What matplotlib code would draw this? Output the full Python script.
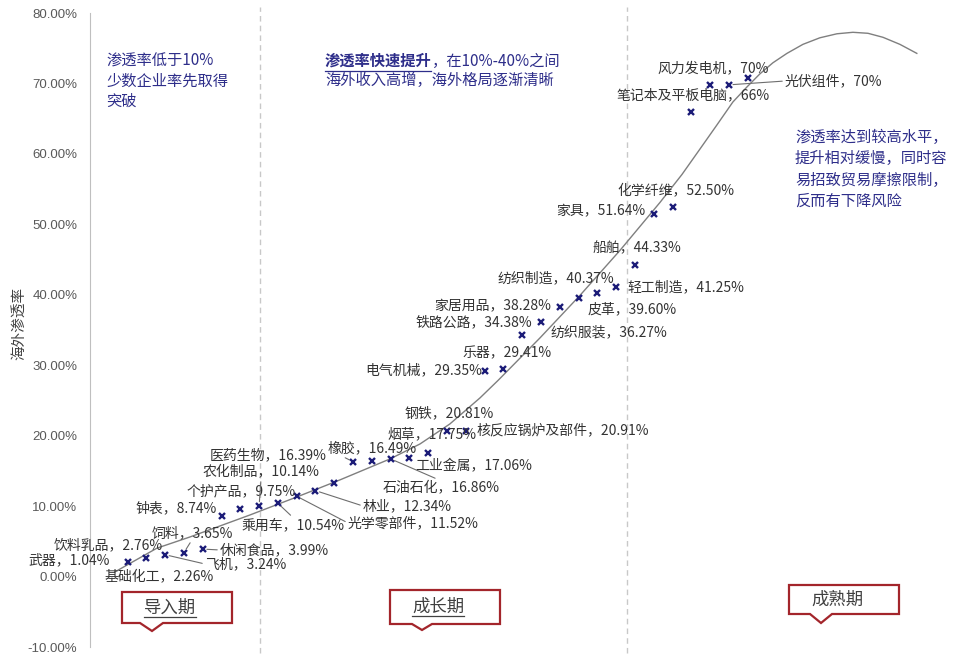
import numpy as np
import matplotlib.pyplot as plt
from matplotlib.patches import Polygon
from matplotlib.lines import Line2D

plt.rcParams['font.family'] = ['Noto Sans CJK SC', 'DejaVu Sans']

W, H = 960, 668

# marker heights (%), one per industry slot
share = [2.0, 2.7, 3.1, 3.4, 3.9, 8.6, 9.6, 10.05, 10.4, 11.4, 12.2, 13.3,
         16.3, 16.4, 16.7, 16.9, 17.6, 20.6, 20.7, 29.2, 29.4, 34.3, 36.1,
         38.2, 39.5, 40.2, 41.1, 44.2, 51.5, 52.4, 65.9, 69.8, 69.8, 70.8]
slot = np.arange(len(share))

# labelled industries: name, printed value, slot of the marker
names = ['武器', '饮料乳品', '基础化工', '飞机', '饲料', '休闲食品', '钟表',
         '个护产品', '农化制品', '乘用车', '光学零部件', '林业', '医药生物',
         '橡胶', '石油石化', '工业金属', '烟草', '钢铁', '核反应锅炉及部件',
         '电气机械', '乐器', '铁路公路', '纺织服装', '家居用品', '纺织制造',
         '皮革', '轻工制造', '船舶', '家具', '化学纤维', '笔记本及平板电脑',
         '风力发电机', '光伏组件']
printed = ['1.04%', '2.76%', '2.26%', '3.24%', '3.65%', '3.99%', '8.74%',
           '9.75%', '10.14%', '10.54%', '11.52%', '12.34%', '16.39%',
           '16.49%', '16.86%', '17.06%', '17.75%', '20.81%', '20.91%',
           '29.35%', '29.41%', '34.38%', '36.27%', '38.28%', '40.37%',
           '39.60%', '41.25%', '44.33%', '51.64%', '52.50%', '66%',
           '70%', '70%']
label_slot = [0, 1, 0, 2, 3, 4, 5, 6, 7, 8, 9, 10, 13, 12, 14, 15, 16, 17, 18,
              19, 20, 21, 22, 23, 24, 25, 26, 27, 28, 29, 30, 31, 32]

# hand-drawn S-curve (slot, %)
curve_x = [-0.68, 1.56, 3.32, 6.51, 9.01, 11.30, 13.96, 15.56, 17.15, 18.75,
           19.71, 21.94, 24.07, 26.20, 28.33, 29.50, 30.46, 31.36, 32.21,
           32.96, 33.65, 34.34, 35.09, 35.94, 36.84, 37.75, 38.60, 39.40,
           40.20, 41.10, 42.00]
curve_y = [0.65, 4.03, 5.62, 8.74, 11.30, 13.72, 16.69, 18.82, 21.66, 25.35,
           27.83, 33.86, 39.90, 46.29, 53.10, 57.07, 60.69, 64.10, 67.36,
           69.50, 71.36, 72.93, 74.27, 75.55, 76.48, 77.05, 77.26, 77.12,
           76.55, 75.55, 74.27]

phase_bounds = [7.05, 26.6]
yticks = [-10, 0, 10, 20, 30, 40, 50, 60, 70, 80]

# label placement in picture pixels: x, y, ha, leader relpos
label_pos = [
    (110, 560, 'right', None), (163, 545, 'right', None),
    (159, 577, 'center', None), (205, 564, 'left', (0, 0.5)),
    (152, 533, 'left', (0.49, 0)), (220, 550, 'left', (0, 0.5)),
    (217, 508, 'right', None), (241, 491, 'center', None),
    (261, 472, 'center', (0.5, 0)), (242, 525, 'left', (0.5, 1)),
    (348, 523, 'left', (0, 0.5)), (363, 506, 'left', (0, 0.5)),
    (327, 455, 'right', None), (328, 448, 'left', (0.1, 0.1)),
    (383, 488, 'left', (0.5, 1)), (415, 466, 'left', None),
    (387, 434, 'left', None), (405, 413, 'left', None),
    (477, 430, 'left', None), (482, 370, 'right', None),
    (462, 353, 'left', None), (532, 322, 'right', None),
    (550, 332, 'left', None), (551, 306, 'right', None),
    (497, 278, 'left', None), (588, 309, 'left', None),
    (627, 287, 'left', None), (593, 248, 'left', None),
    (645, 211, 'right', None), (617, 191, 'left', None),
    (617, 95, 'left', None), (657, 68, 'left', None),
    (785, 81, 'left', (0, 0.5)),
]


def fp(x, y):
    return (x / W, 1 - y / H)


fig = plt.figure(figsize=(9.6, 6.68), dpi=100)
ax = fig.add_axes([90 / W, 1 - 647 / H, 855 / W, 634 / H])

ax.plot(curve_x, curve_y, color='#7f7f7f', lw=1.0, zorder=2)
ax.plot(slot, share, 'x', color='#1c1c78', ms=5, mew=1.7, zorder=3)

for x in phase_bounds:
    ax.axvline(x, ymin=-0.01, ymax=1.01, color='#c8c8c8', lw=1.0,
               ls=(0, (4, 3)), clip_on=False, zorder=1)

ax.set_xlim(-2, 43.5)
ax.set_ylim(-10, 80)
ax.set_xticks([])
ax.set_yticks(yticks)
ax.set_yticklabels(['%.2f%%' % t for t in yticks], fontsize=9.5,
                   color='#595959', family='Liberation Sans')
ax.tick_params(axis='y', length=0, pad=9)
for s in ['top', 'right', 'bottom']:
    ax.spines[s].set_visible(False)
ax.spines['left'].set_color('#bfbfbf')
ax.set_ylabel('海外渗透率', fontsize=10.5, color='#404040')
ax.yaxis.set_label_coords(-0.075, 0.51)

for n, v, i, (px, py, ha, rp) in zip(names, printed, label_slot, label_pos):
    kw = {}
    if rp is not None:
        kw['arrowprops'] = dict(arrowstyle='-', color='#6e6e6e', lw=0.8,
                                shrinkA=0, shrinkB=3, relpos=rp)
    ax.annotate(n + '，' + v, xy=(slot[i], share[i]), xytext=fp(px, py),
                textcoords='figure fraction', ha=ha, va='center',
                fontsize=10, color='#333333', zorder=4, **kw)

navy = '#2e2e8a'
for k, line in enumerate(['渗透率低于10%', '少数企业率先取得', '突破']):
    fig.text(*fp(106, 61 + 20 * k), line, fontsize=11, color=navy,
             style='italic', va='center')
fig.text(*fp(325, 61), '渗透率快速提升', fontsize=11, color=navy,
         weight='bold', va='center')
fig.text(*fp(432, 61), '，在10%-40%之间', fontsize=11, color=navy,
         va='center')
fig.text(*fp(325, 80), '海外收入高增，海外格局逐渐清晰', fontsize=11,
         color=navy, va='center')
fig.add_artist(Line2D([325 / W, 431 / W], [1 - 71 / H, 1 - 71 / H],
                      color=navy, lw=0.9))
for k, line in enumerate(['渗透率达到较高水平，', '提升相对缓慢，同时容',
                          '易招致贸易摩擦限制，', '反而有下降风险']):
    fig.text(*fp(795, 137 + 21.5 * k), line, fontsize=11, color=navy,
             style='italic', va='center')

# phase callout boxes
boxes = [('导入期', 122, 592, 232, 623, 140, 163, 152, 631, True),
         ('成长期', 390, 590, 500, 624, 412, 432, 422, 630, True),
         ('成熟期', 789, 585, 899, 614, 810, 832, 821, 623, False)]
for txt, x0, y0, x1, y1, n0, n1, tx, ty, ul in boxes:
    pts = [(x0, y0), (x1, y0), (x1, y1), (n1, y1), (tx, ty), (n0, y1),
           (x0, y1)]
    fig.add_artist(Polygon([fp(a, b) for a, b in pts], closed=True,
                           facecolor='white', edgecolor='#a3252b', lw=1.6,
                           transform=fig.transFigure))
    cx, cy = (x0 + x1) / 2 - 7, (y0 + y1) / 2
    fig.text(*fp(cx, cy), txt, fontsize=12.5, color='#404040',
             ha='center', va='center')
    if ul:
        fig.add_artist(Line2D([(cx - 26) / W, (cx + 26) / W],
                              [1 - (cy + 9) / H, 1 - (cy + 9) / H],
                              color='#404040', lw=0.9))

fig.savefig('out.png', dpi=100)
